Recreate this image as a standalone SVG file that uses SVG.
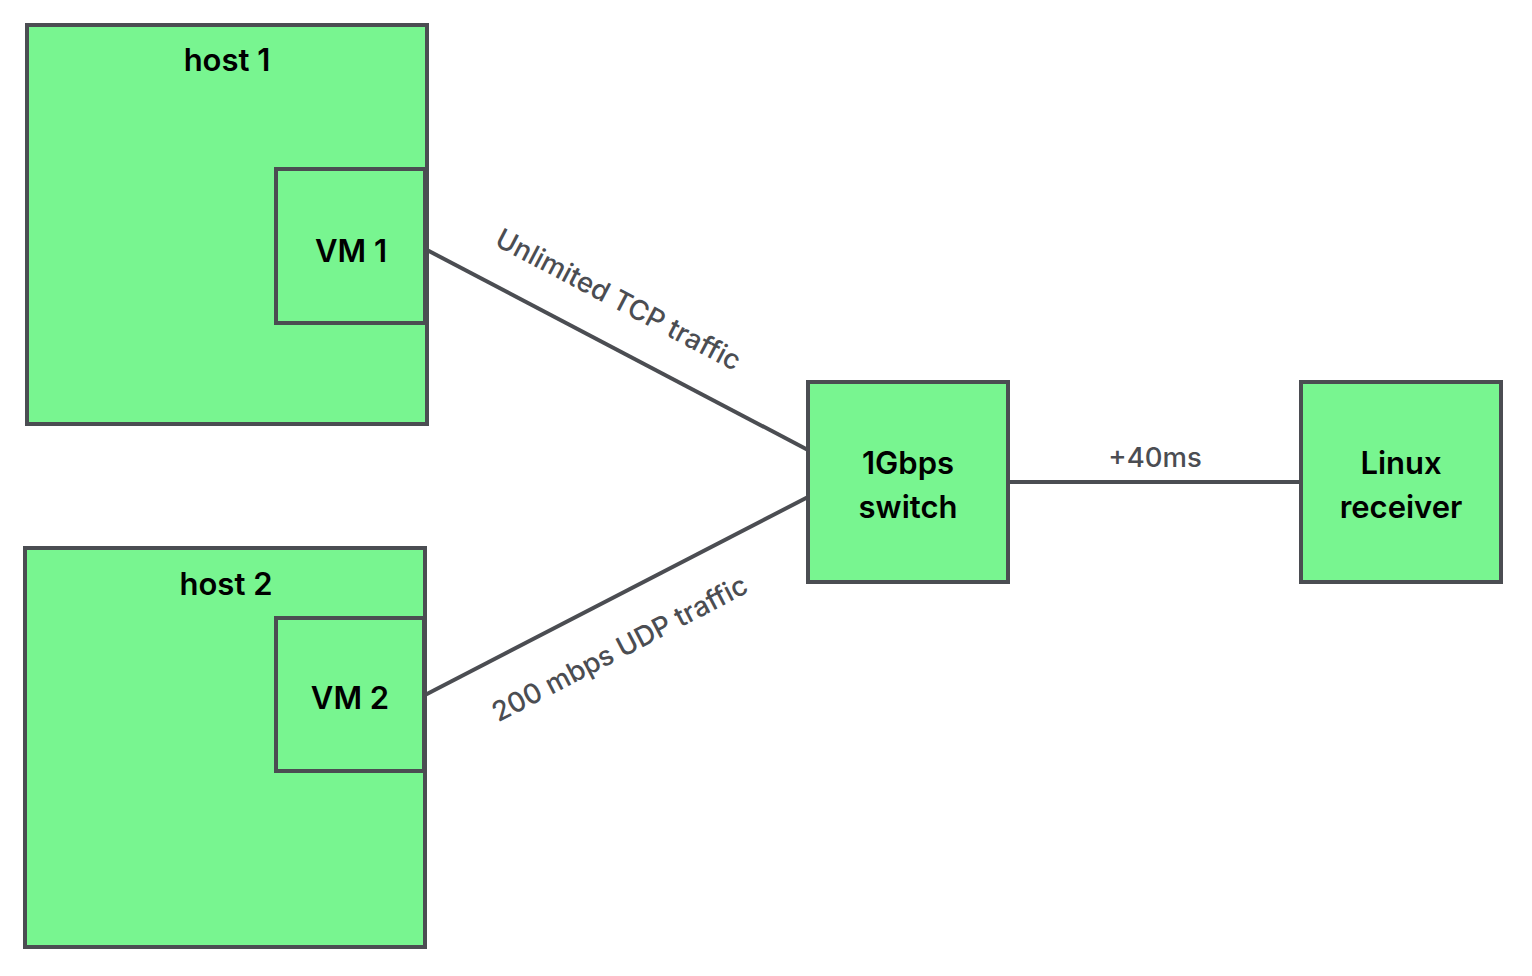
<svg xmlns="http://www.w3.org/2000/svg" width="1532" height="976" viewBox="0 0 1532 976">
<style>
.box{fill:#78f590;stroke:#4b4d52;stroke-width:4}
.nt{font-family:Inter,"Liberation Sans",sans-serif;font-weight:600;font-size:31px;fill:#000;text-anchor:middle}
.lt{font-family:Inter,"Liberation Sans",sans-serif;font-weight:500;font-size:27.5px;fill:#4b4d52;text-anchor:middle}
.ln{stroke:#4b4d52;stroke-width:4;fill:none}
</style>
<rect width="1532" height="976" fill="#fff"/>
<g id="connectors">
<line class="ln" x1="427" y1="250" x2="808" y2="450"/>
<line class="ln" x1="425" y1="695" x2="808" y2="497"/>
<line class="ln" x1="1008" y1="482" x2="1301" y2="482"/>
<text class="lt" transform="translate(614,308) rotate(27.7)">Unlimited TCP traffic</text>
<text class="lt" transform="translate(624,657) rotate(-27.5)">200 mbps UDP traffic</text>
<text class="lt" x="1155" y="467">+40ms</text>
</g>
<g id="host1">
<rect class="box" x="27" y="25" width="400" height="399"/>
<text class="nt" x="227" y="71">host 1</text>
</g>
<g id="vm1">
<rect class="box" x="276" y="169" width="149" height="154"/>
<text class="nt" x="351" y="262">VM 1</text>
</g>
<g id="host2">
<rect class="box" x="25" y="548" width="400" height="399"/>
<text class="nt" x="226" y="595">host 2</text>
</g>
<g id="vm2">
<rect class="box" x="276" y="618" width="148" height="153"/>
<text class="nt" x="350" y="709">VM 2</text>
</g>
<g id="switch">
<rect class="box" x="808" y="382" width="200" height="200"/>
<text class="nt" x="908" y="474">1Gbps</text>
<text class="nt" x="908" y="518">switch</text>
</g>
<g id="receiver">
<rect class="box" x="1301" y="382" width="200" height="200"/>
<text class="nt" x="1401" y="474">Linux</text>
<text class="nt" x="1401" y="518">receiver</text>
</g>
</svg>
